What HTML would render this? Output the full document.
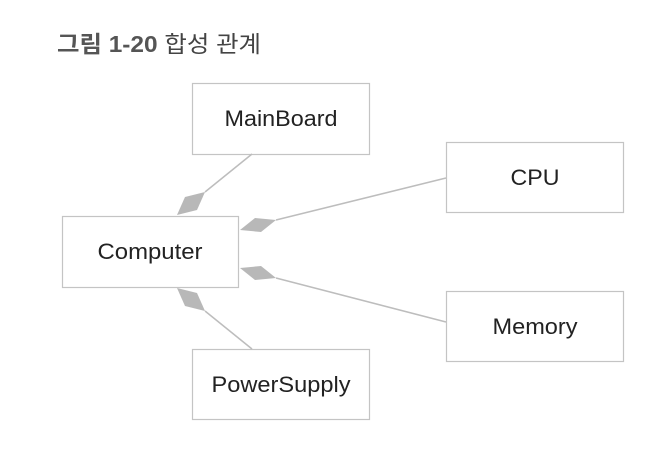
<!DOCTYPE html>
<html><head><meta charset="utf-8"><style>
html,body{margin:0;padding:0;background:#fff;}
body{width:655px;height:449px;overflow:hidden;}
</style></head><body>
<svg width="655" height="449" xmlns="http://www.w3.org/2000/svg" font-family="'Liberation Sans', 'Noto Sans CJK KR', sans-serif">
<text x="57" y="52" font-size="23" fill="#555" font-weight="bold" textLength="204" lengthAdjust="spacingAndGlyphs">그림 1-20 <tspan font-weight="normal" fill="#444">합성 관계</tspan></text>
<g fill="#fff" stroke="#c4c4c4" stroke-width="1.2">
<rect x="192.5" y="83.5" width="177" height="71"/>
<rect x="62.5" y="216.5" width="176" height="71"/>
<rect x="446.5" y="142.5" width="177" height="70"/>
<rect x="446.5" y="291.5" width="177" height="70"/>
<rect x="192.5" y="349.5" width="177" height="70"/>
</g>
<g stroke="#bdbdbd" stroke-width="1.5">
<line x1="252" y1="154" x2="205" y2="192"/>
<line x1="446" y1="178" x2="276" y2="220"/>
<line x1="446" y1="322" x2="276" y2="278"/>
<line x1="252" y1="349" x2="205" y2="311"/>
</g>
<g fill="#b8b8b8">
<polygon points="177,215 185,197 205,192 197,210"/>
<polygon points="240,230 255,218 276,220 261,232"/>
<polygon points="240,268 261,266 276,278 255,280"/>
<polygon points="177,288 197,293 205,311 185,306"/>
</g>
<g font-size="22" fill="#222" text-anchor="middle">
<text x="281" y="126" textLength="113" lengthAdjust="spacingAndGlyphs">MainBoard</text>
<text x="150" y="259" textLength="105" lengthAdjust="spacingAndGlyphs">Computer</text>
<text x="535" y="185" textLength="49" lengthAdjust="spacingAndGlyphs">CPU</text>
<text x="535" y="334" textLength="85" lengthAdjust="spacingAndGlyphs">Memory</text>
<text x="281" y="392" textLength="139" lengthAdjust="spacingAndGlyphs">PowerSupply</text>
</g>
</svg>
</body></html>
